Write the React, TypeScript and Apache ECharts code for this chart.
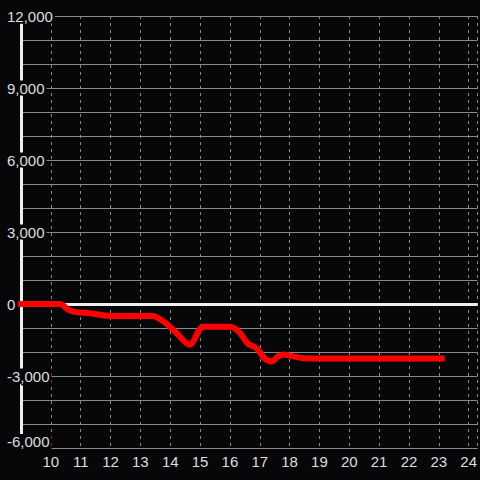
import React, { useEffect, useRef } from "react";
import * as echarts from "echarts";

const xValues = [8.88, 10.3, 10.6, 10.9, 11.3, 11.8, 12.3, 13.4, 13.8, 14.2, 14.65, 15.1, 15.6, 16.0, 16.3, 16.6, 16.9, 17.15, 17.4, 17.6, 17.8, 18.0, 18.4, 19, 20, 21, 22, 23.2];
const yValues = [0, 0, -250, -350, -380, -480, -500, -500, -750, -1200, -1700, -950, -950, -950, -1150, -1650, -1850, -2250, -2400, -2200, -2100, -2150, -2250, -2270, -2270, -2270, -2270, -2270];
const yLabelStep = 3000;
const yMin = -6000;
const yMax = 12000;

export default function App() {
  const ref = useRef<HTMLDivElement>(null);
  useEffect(() => {
    if (!ref.current) return;
    const chart = echarts.init(ref.current, null, { renderer: "svg" });
    const font = "Liberation Sans, Arial, sans-serif";
    const bg = "#070709";
    const fmt = (v: number) => {
      if (v % yLabelStep !== 0) return "";
      const s = v.toLocaleString("en-US");
      return v === yMin ? `{low|${s}}` : s;
    };
    const baseLabel = {
      color: "#dddddd",
      fontSize: 15,
      fontFamily: font,
      align: "left",
      margin: 14,
      formatter: fmt,
    };
    chart.setOption({
      animation: false,
      backgroundColor: bg,
      grid: { left: 21, right: 0, top: 16, bottom: 32, containLabel: false },
      xAxis: {
        type: "value",
        min: 9,
        max: 24.3,
        interval: 1,
        axisLine: { onZero: false, show: false },
        axisTick: { show: false },
        axisLabel: {
          color: "#dddddd",
          fontSize: 15,
          fontFamily: font,
          margin: 6,
          showMinLabel: false,
          showMaxLabel: false,
        },
        splitLine: { show: true, lineStyle: { color: "#8a8a8a", type: [3, 4], width: 1 } },
      },
      yAxis: [
        {
          type: "value",
          position: "left",
          offset: 0,
          min: yMin,
          max: yMax,
          interval: 1000,
          axisLine: { show: false },
          axisTick: { show: false },
          axisLabel: {
            ...baseLabel,
            backgroundColor: bg,
            padding: [0, 2, 0, 0],
            rich: { low: { color: "#dddddd", fontSize: 15, fontFamily: font, padding: [0, 0, 13, 0] } },
          },
          splitLine: { show: true, lineStyle: { color: "#8a8a8a", width: 1 } },
        },
        {
          type: "value",
          position: "left",
          offset: 0,
          min: yMin,
          max: yMax,
          interval: 1000,
          axisLine: { show: true, onZero: false, lineStyle: { color: "#eeeeee", width: 3 } },
          axisTick: { show: false },
          axisLabel: {
            ...baseLabel,
            textBorderColor: bg,
            textBorderWidth: 3,
            rich: {
              low: {
                color: "#dddddd",
                fontSize: 15,
                fontFamily: font,
                padding: [0, 0, 13, 0],
                textBorderColor: bg,
                textBorderWidth: 3,
              },
            },
          },
          splitLine: { show: false },
        },
      ],
      series: [
        {
          type: "line",
          data: [],
          z: 1,
          markLine: {
            silent: true,
            z: 1,
            symbol: "none",
            label: { show: false },
            lineStyle: { color: "#eeeeee", width: 3, type: "solid" },
            data: [{ yAxis: 0 }],
          },
        },
        {
          type: "line",
          z: 6,
          clip: false,
          data: xValues.map((x, i) => [x, yValues[i]]),
          smooth: 0.3,
          showSymbol: false,
          lineStyle: { color: "#ff0000", width: 6 },
        },
      ],
    });
    return () => chart.dispose();
  }, []);
  return <div ref={ref} style={{ width: 480, height: 480, position: "absolute", left: 0, top: 0 }} />;
}
